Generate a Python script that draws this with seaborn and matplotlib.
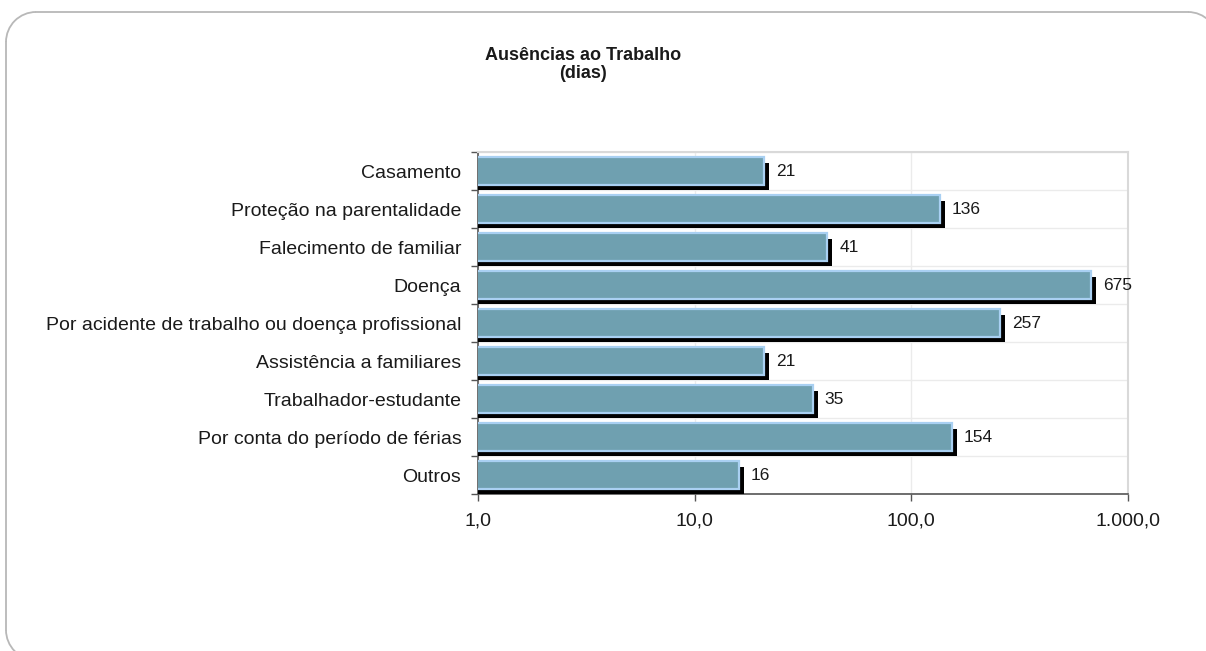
import matplotlib
matplotlib.use("Agg")
import matplotlib.pyplot as plt
import matplotlib.patheffects as pe
from matplotlib.patches import Arc
from matplotlib.lines import Line2D
from matplotlib.ticker import FixedLocator, FuncFormatter, NullLocator
import seaborn as sns
import pandas as pd

categories = [
    "Casamento",
    "Proteção na parentalidade",
    "Falecimento de familiar",
    "Doença",
    "Por acidente de trabalho ou doença profissional",
    "Assistência a familiares",
    "Trabalhador-estudante",
    "Por conta do período de férias",
    "Outros",
]
values = [21, 136, 41, 675, 257, 21, 35, 154, 16]
x_ticks = [1, 10, 100, 1000]
x_tick_labels = ["1,0", "10,0", "100,0", "1.000,0"]
title_lines = ["Ausências ao Trabalho", "(dias)"]

df = pd.DataFrame({"categoria": categories, "dias": values})

sns.set_theme(style="white")
plt.rcParams["font.family"] = ["Liberation Sans", "DejaVu Sans"]
NARROW = ["Liberation Sans Narrow", "Liberation Sans", "DejaVu Sans"]

W, H = 1206, 651
fig = plt.figure(figsize=(W / 100, H / 100), dpi=100)
ax = fig.add_axes([478 / W, 1 - 494 / H, (1128 - 478) / W, (494 - 152) / H])

# rounded frame, drawn in inches (1 in = 100 px)
tr = fig.dpi_scale_trans
fc = "#b8b8b8"
left, top, r = 0.06, (H - 12) / 100, 0.30
right_c, bot_c = 11.88, 0.21
frame_parts = [
    Line2D([left + r, right_c], [top, top], transform=tr, color=fc, lw=1.3),
    Line2D([left, left], [top - r, bot_c], transform=tr, color=fc, lw=1.3),
    Arc((left + r, top - r), 2 * r, 2 * r, theta1=90, theta2=180, transform=tr, color=fc, lw=1.3),
    Arc((left + r, bot_c), 2 * r, 2 * r, theta1=180, theta2=270, transform=tr, color=fc, lw=1.3),
    Arc((right_c, top - r), 2 * r, 2 * r, theta1=0, theta2=90, transform=tr, color=fc, lw=1.3),
]
for a in frame_parts:
    fig.add_artist(a)

sns.barplot(data=df, y="categoria", x="dias", orient="h", ax=ax,
            color="#6fa0b0", saturation=1, width=0.72,
            edgecolor="#a9d0f2", linewidth=1.6, zorder=3)
ax.set_xscale("log")

for p in ax.patches:
    p.set_path_effects([pe.SimplePatchShadow(offset=(3.6, -3.8), shadow_rgbFace="black", alpha=1.0),
                        pe.Normal()])

ax.set_xlim(1, 1000)
ax.set_ylim(len(categories) - 0.5, -0.5)
ax.xaxis.set_major_locator(FixedLocator(x_ticks))
ax.xaxis.set_minor_locator(NullLocator())
ax.xaxis.set_major_formatter(FuncFormatter(
    lambda v, pos: x_tick_labels[x_ticks.index(int(round(v)))] if int(round(v)) in x_ticks else ""))
ax.set_yticks(range(len(categories)))
ax.set_yticklabels(categories)
ax.set_yticks([i + 0.5 for i in range(-1, len(categories))], minor=True)

ax.set_xlabel("")
ax.set_ylabel("")

ax.grid(True, axis="x", which="major", color="#ebebeb", linewidth=1, zorder=0)
ax.grid(True, axis="y", which="minor", color="#ebebeb", linewidth=1, zorder=0)
ax.grid(False, axis="y", which="major")
ax.set_axisbelow(True)

for s in ["left", "bottom"]:
    ax.spines[s].set_color("#555555")
    ax.spines[s].set_linewidth(1.2)
for s in ["top", "right"]:
    ax.spines[s].set_color("#d9d9d9")
    ax.spines[s].set_linewidth(1.5)

ax.tick_params(axis="y", which="major", length=0, pad=12, labelsize=14, labelcolor="#1a1a1a")
ax.tick_params(axis="y", which="minor", length=5, width=1, color="#555555", left=True, direction="out")
ax.tick_params(axis="x", which="major", length=5, width=1, color="#555555", bottom=True,
               direction="out", labelcolor="#1a1a1a", pad=8)
for t in ax.get_xticklabels():
    t.set_family(NARROW)
    t.set_fontsize(14)

for cont in ax.containers:
    ax.bar_label(cont, labels=[str(v) for v in values], padding=8.5,
                 fontsize=12.5, color="#1a1a1a", family=NARROW)

fig.text(583 / W, 1 - 55 / H, title_lines[0], ha="center", va="center",
         fontsize=13, fontweight="bold", color="#1a1a1a")
fig.text(583 / W, 1 - 74 / H, title_lines[1], ha="center", va="center",
         fontsize=13, fontweight="bold", color="#1a1a1a")

fig.savefig("out.png", dpi=100, facecolor="white")
